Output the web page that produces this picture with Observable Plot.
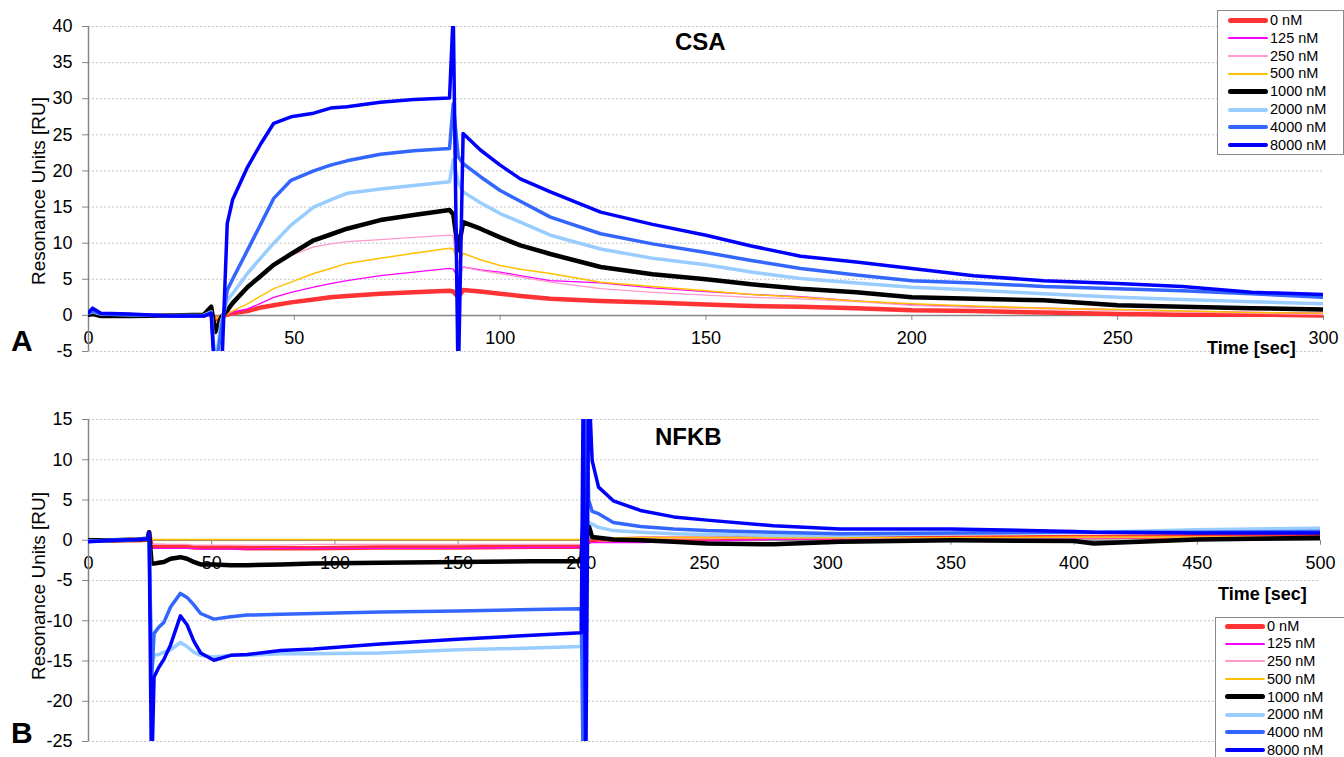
<!DOCTYPE html>
<html><head><meta charset="utf-8">
<script src="https://cdn.jsdelivr.net/npm/d3@7"></script>
<script src="https://cdn.jsdelivr.net/npm/@observablehq/plot@0.6"></script>
<style>
body{margin:0;background:#fff;font-family:"Liberation Sans",Arial,sans-serif;}
#wrap{position:relative;width:1344px;height:757px;overflow:hidden;background:#fff;}
.abs{position:absolute;white-space:nowrap;line-height:1;color:#000;}
.title{font-weight:bold;font-size:24px;}
.panel{font-weight:bold;font-size:30px;}
.xlab{font-weight:bold;font-size:18px;}
.ylab{font-size:19px;transform:translate(-50%,-50%) rotate(-90deg);}
.legend{position:absolute;background:#fff;border:1px solid #8a8a8a;box-sizing:border-box;}
.legend .row{position:absolute;left:0;height:18px;display:flex;align-items:center;font-size:14.5px;line-height:1;}
.legend .sw{display:inline-block;width:40px;margin-right:2px;}
</style></head>
<body><div id="wrap"></div>
<script>
// ---------- series definitions ----------
const seriesLabels = ["0 nM","125 nM","250 nM","500 nM","1000 nM","2000 nM","4000 nM","8000 nM"];
const seriesColors = ["#ff3333","#ff00ff","#ff99cc","#ffc000","#000000","#99ccff","#3366ff","#0000ff"];
const seriesWidths = [4.5,1.3,1.3,1.5,4.5,3.5,3.5,3.5];

// ---------- Panel A: CSA ----------
const csaTime = [0,1,3,10,20,28,29.8,30.8,32.2,33.7,35,38.6,41.9,45,49.2,54.7,58.8,62.8,70.9,79,87.7,88.6,89.8,91,95.2,100,104.9,112.2,124.4,137,150,161,173,186.5,200,215,232,250,265.7,282.5,300];
const csa0    = [0.2,0.3,0,0,0, 0,0.2,-0.6,-0.2,0.1, 0.3,0.6,1.1,1.4,1.8, 2.2,2.5,2.7,3.0,3.2, 3.4,3.3,2.5,3.5,3.3, 3.0,2.7,2.3,2.0,1.8, 1.5,1.3,1.2,1.0,0.7, 0.6,0.4,0.2,0.1,0.1, 0.0];
const csa125  = [0,0.1,0,0,0, 0,0.2,-0.5,0,0.2, 0.4,0.9,1.7,2.5,3.2, 3.9,4.4,4.8,5.5,6.0, 6.5,6.4,5.1,6.7,6.3, 6.0,5.5,4.8,4.5,3.8, 3.3,2.9,2.6,2.0,1.5, 1.2,1.0,0.8,0.6,0.4, 0.3];
const csa250  = [0,0.1,0,0,0, 0,0.2,-0.5,0,0.6, 1.6,3.9,5.6,6.9,8.3, 9.5,9.9,10.2,10.5,10.8, 11.1,11.0,5.0,6.7,6.2, 5.8,5.3,4.6,3.7,3.2, 2.8,2.5,2.3,1.9,1.4, 1.1,0.9,0.7,0.5,0.3, 0.1];
const csa500  = [0,0.1,0,0,0, 0,0.2,-0.5,0,0.2, 0.6,1.6,2.7,3.7,4.6, 5.8,6.5,7.2,7.9,8.6, 9.3,9.2,7.2,8.6,7.7, 6.9,6.4,5.8,4.6,4.0, 3.4,2.9,2.5,2.0,1.6, 1.3,1.0,0.8,0.6,0.4, 0.3];
const csa1000 = [0.1,0.2,-0.1,-0.1,0.0, 0.1,1.2,-2.3,-0.3,0.7, 1.7,3.9,5.5,7.0,8.5, 10.4,11.2,12.0,13.2,13.9, 14.6,14.0,9.0,12.9,12.0, 10.8,9.7,8.5,6.7,5.7, 5.0,4.3,3.7,3.2,2.5, 2.3,2.1,1.4,1.2,1.0, 0.8];
const csa2000 = [0.3,0.5,0.2,0.1,0.0, 0.0,0.5,-7,-1,2.1, 3.0,5.8,8.0,10.0,12.5, 15.0,16.0,16.9,17.5,18.0, 18.5,21.5,18.5,17.1,15.6, 14.1,12.9,11.1,9.2,7.9, 7.0,6.0,5.1,4.5,3.9, 3.5,3.0,2.5,2.2,1.9, 1.6];
const csa4000 = [0.3,0.6,0.2,0.1,-0.1, -0.1,0.4,-8,-2,3.5, 5.0,9.0,12.7,16.2,18.7, 20.0,20.8,21.4,22.3,22.8, 23.1,29.3,22.0,21.0,19.2, 17.3,15.8,13.6,11.3,9.9, 8.7,7.6,6.5,5.6,4.8, 4.5,4.0,3.7,3.4,3.0, 2.5];
const csa8000 = [0.4,1.0,0.3,0.2,-0.1, -0.1,0.3,-10,-10,12.7, 16.0,20.5,23.8,26.6,27.5, 28.0,28.7,28.9,29.5,29.9, 30.1,42,-10,25.2,22.9, 20.8,18.9,17.1,14.3,12.6, 11.1,9.6,8.2,7.4,6.5, 5.5,4.8,4.4,4.0,3.2, 2.9];
const csaXTicks = [0,50,100,150,200,250,300];
const csaYTicks = [-5,0,5,10,15,20,25,30,35,40];

// ---------- Panel B: NFKB ----------
const nfTime = [0,10,20,24,24.6, 25.6,26.6,28.5,30.6,33.3, 37.3,40,42.7,45.5,50.9, 57.7,64.4,78,91.4,118.5, 150,180,200,200.8,201.8, 203,204.4,207,213,224, 237.5,251,278,305,350, 400,408,450,500];
const nf0    = [0,0,0,0.1,1.0, -0.8,-0.7,-0.7,-0.7,-0.8, -0.8,-0.8,-0.9,-0.9,-0.9, -0.9,-1.0,-1.0,-1.0,-0.9, -0.9,-0.8,-0.8,-0.5,-0.3, -0.2,0.0,0.1,0.1,0.2, 0.2,0.2,0.3,0.3,0.3, 0.4,0.4,0.5,0.6];
const nf125  = [0,0,0,0.1,0.8, -1.0,-1.0,-1.0,-1.0,-1.0, -1.0,-1.0,-1.0,-1.1,-1.1, -1.1,-1.1,-1.0,-1.0,-1.0, -1.0,-0.9,-0.9,-0.4,-0.4, -0.3,-0.3,-0.3,-0.3,-0.3, -0.2,-0.1,0.1,0.2,0.2, 0.3,0.3,0.4,0.4];
const nf250  = [0,0,0,0.1,0.8, -0.5,-0.5,-0.5,-0.5,-0.5, -0.5,-0.5,-0.6,-0.6,-0.6, -0.6,-0.6,-0.6,-0.5,-0.5, -0.5,-0.5,-0.5,0.2,0.2, 0.2,0.2,0.2,0.2,0.2, 0.2,0.2,0.3,0.3,0.3, 0.3,0.3,0.4,0.4];
const nf500  = [0,0,0,0.1,0.5, 0.1,0.1,0.1,0.1,0.1, 0.1,0.1,0.1,0.1,0.1, 0.1,0.1,0.1,0.1,0.1, 0.1,0.1,0.1,0.4,0.4, 0.3,0.3,0.3,0.3,0.3, 0.3,0.3,0.3,0.3,0.3, 0.4,0.4,0.4,0.4];
const nf1000 = [0,0,0.1,0.2,1.0, -2.9,-2.9,-2.8,-2.7,-2.3, -2.1,-2.3,-2.7,-3.0,-3.0, -3.1,-3.1,-3.0,-2.9,-2.8, -2.7,-2.6,-2.6,1.8,1.5, 1.8,0.4,0.3,0.1,0.0, -0.2,-0.4,-0.5,-0.2,0.0, -0.1,-0.4,0.1,0.3];
const nf2000 = [-0.1,0,0.1,0.2,0.7, -16,-14.3,-14.2,-13.9,-13.6, -12.7,-13.2,-13.9,-14.3,-14.5, -14.3,-14.3,-14.1,-14.1,-14.0, -13.6,-13.4,-13.2,-5,3.0, 2.2,2.0,1.6,1.2,1.0, 0.8,0.7,0.6,0.6,0.8, 1.0,1.0,1.3,1.5];
const nf4000 = [-0.1,0,0.1,0.2,0.8, -17.5,-11.6,-10.8,-10.2,-8.3, -6.6,-7.1,-8.0,-9.1,-9.8, -9.5,-9.3,-9.2,-9.1,-8.9, -8.8,-8.6,-8.5,-30,20, 5.0,3.6,3.3,2.2,1.7, 1.4,1.2,1.0,0.8,0.9, 1.0,1.0,1.0,1.1];
const nf8000 = [-0.2,0,0.1,0.2,1.0, -30,-17,-15.8,-14.8,-13.0, -9.4,-10.5,-12.5,-14.0,-14.9, -14.3,-14.2,-13.7,-13.5,-12.9, -12.3,-11.8,-11.5,20,-30, 20,9.9,6.6,4.9,3.7, 2.9,2.5,1.8,1.4,1.4, 1.1,1.0,0.9,0.9];
const nfXTicks = [0,50,100,150,200,250,300,350,400,450,500];
const nfYTicks = [-25,-20,-15,-10,-5,0,5,10,15];

// ---------- helpers ----------
const FONT = "'Liberation Sans', Arial, sans-serif";
const AXIS = "#868686";
function rows(time, vals){ return time.map((t,i)=>({t, v: vals[i]})); }

function chart({time, series, xDomain, yDomain, xTicks, yTicks, height, mt, mb, mr, labelDy}) {
  const marks = [
    Plot.ruleY(yTicks.filter(d => d !== 0), {y: d => d, stroke: "#c4c4c4", strokeDasharray: "2,2", strokeWidth: 1}),
    Plot.axisY({ticks: yTicks, tickSize: 6, tickPadding: 10, stroke: AXIS, fill: "#000", fontSize: 18, label: null, tickFormat: d => String(d)}),
    Plot.text(xTicks, {x: d => d, y: 0, dy: labelDy, text: d => String(d), fontSize: 18, fill: "#000", lineAnchor: "middle"}),
    Plot.ruleX([0], {stroke: AXIS, strokeWidth: 1.5}),
    Plot.ruleY([0], {stroke: AXIS, strokeWidth: 1.5}),
    Plot.ruleX(xTicks, {x: d => d, y1: 0, y2: 0, insetBottom: -5, stroke: AXIS, strokeWidth: 1})
  ];
  series.forEach((vals, i) => {
    marks.push(Plot.line(rows(time, vals), {
      x: "t", y: "v", stroke: seriesColors[i], strokeWidth: seriesWidths[i],
      strokeLinejoin: "round", strokeLinecap: "round", clip: true
    }));
  });
  return Plot.plot({
    width: 1344, height, marginLeft: 88, marginRight: mr, marginTop: mt, marginBottom: mb,
    x: {domain: xDomain, axis: null},
    y: {domain: yDomain},
    style: {fontFamily: FONT, background: "transparent", overflow: "visible", fontSize: "18px"},
    marks
  });
}

const wrap = document.getElementById("wrap");
function place(el, top){ const d = document.createElement("div"); d.style.position = "absolute"; d.style.left = "0px"; d.style.top = top + "px"; d.appendChild(el); wrap.appendChild(d); }

place(chart({time: csaTime, series: [csa0,csa125,csa250,csa500,csa1000,csa2000,csa4000,csa8000],
  xDomain: [0,300], yDomain: [-5,40], xTicks: csaXTicks, yTicks: csaYTicks,
  height: 360, mt: 26, mb: 9, mr: 21, labelDy: 23}), 0);

place(chart({time: nfTime, series: [nf0,nf125,nf250,nf500,nf1000,nf2000,nf4000,nf8000],
  xDomain: [0,500], yDomain: [-25,15], xTicks: nfXTicks, yTicks: nfYTicks,
  height: 377, mt: 39, mb: 16, mr: 24, labelDy: 23}), 380);

// ---------- text annotations ----------
function addText(txt, cls, left, top){ const d = document.createElement("div"); d.className = "abs " + cls; d.textContent = txt; d.style.left = left + "px"; d.style.top = top + "px"; wrap.appendChild(d); return d; }
addText("CSA", "title", 675, 30);
addText("NFKB", "title", 655, 425);
addText("A", "panel", 11, 326);
addText("B", "panel", 11, 718);
addText("Time [sec]", "xlab", 1207, 339);
addText("Time [sec]", "xlab", 1218, 585);
addText("Resonance Units [RU]", "ylab", 38, 191);
addText("Resonance Units [RU]", "ylab", 38, 586);

// ---------- legends ----------
function legend(left, top, width, height, firstCenter, step, swLeft){
  const box = document.createElement("div");
  box.className = "legend";
  Object.assign(box.style, {left: left + "px", top: top + "px", width: width + "px", height: height + "px"});
  seriesLabels.forEach((lab, i) => {
    const r = document.createElement("div");
    r.className = "row";
    r.style.top = (firstCenter + i * step - 9) + "px";
    r.style.left = swLeft + "px";
    const sw = document.createElement("span");
    sw.className = "sw";
    const h = Math.max(2, Math.round(seriesWidths[i]));
    sw.style.height = h + "px";
    sw.style.borderRadius = (h / 2) + "px";
    sw.style.background = seriesColors[i];
    const tx = document.createElement("span");
    tx.textContent = lab;
    r.appendChild(sw); r.appendChild(tx);
    box.appendChild(r);
  });
  wrap.appendChild(box);
}
legend(1217, 10, 127, 145, 9, 17.9, 10);
legend(1215, 617, 140, 160, 8, 17.7, 9);
</script>
</body></html>
